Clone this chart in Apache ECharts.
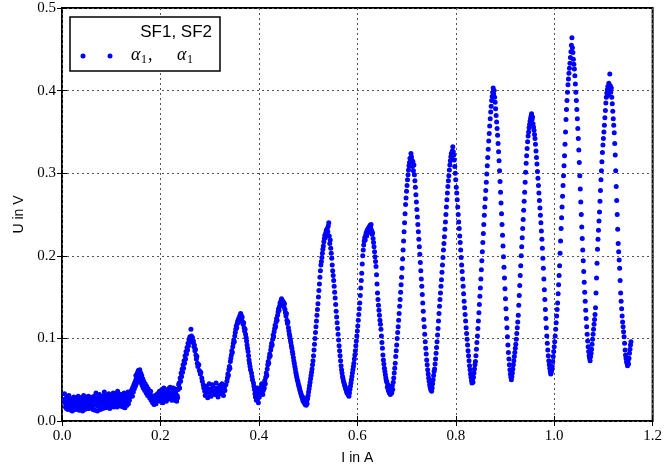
<!DOCTYPE html>
<html>
<head>
<meta charset="utf-8">
<script src="https://cdn.jsdelivr.net/npm/echarts@6/dist/echarts.min.js"></script>
<style>html,body{margin:0;padding:0;background:#fff;}#c{width:665px;height:470px;}</style>
</head>
<body>
<div id="c"></div>
<script>
// ---- data (I in A, U in V) ----
const xTicks = [0.0, 0.2, 0.4, 0.6, 0.8, 1.0, 1.2];
const yTicks = [0.0, 0.1, 0.2, 0.3, 0.4, 0.5];
const seriesName = "SF1, SF2";

const band0 = [[0.005,0.033],[0.006,0.022],[0.007,0.017],[0.008,0.027],[0.010,0.030],[0.011,0.019],[0.012,0.014],[0.013,0.024],[0.015,0.028],[0.016,0.018],[0.018,0.021],[0.019,0.013],[0.020,0.026],[0.022,0.016],[0.023,0.023],[0.025,0.019],[0.026,0.027],[0.028,0.014],[0.029,0.021],[0.031,0.025],[0.032,0.017],[0.034,0.022],[0.035,0.013],[0.037,0.026],[0.038,0.019],[0.040,0.023],[0.041,0.016],[0.043,0.027],[0.045,0.020],[0.046,0.014],[0.048,0.024],[0.050,0.018],[0.051,0.026],[0.053,0.021],[0.055,0.015],[0.056,0.023],[0.058,0.027],[0.060,0.018],[0.061,0.022],[0.063,0.014],[0.065,0.025],[0.066,0.030],[0.068,0.019],[0.069,0.034],[0.071,0.024],[0.072,0.012],[0.074,0.021],[0.075,0.028],[0.077,0.017],[0.079,0.025],[0.080,0.022],[0.082,0.030],[0.083,0.015],[0.085,0.026],[0.087,0.020],[0.088,0.031],[0.090,0.024],[0.091,0.018],[0.093,0.028],[0.095,0.033],[0.096,0.022],[0.098,0.026],[0.099,0.019],[0.101,0.030],[0.103,0.024],[0.104,0.034],[0.106,0.027],[0.107,0.020],[0.109,0.031],[0.111,0.025],[0.112,0.017],[0.114,0.029],[0.115,0.033],[0.117,0.022],[0.119,0.027],[0.120,0.018],[0.122,0.025],[0.123,0.030],[0.125,0.021],[0.127,0.028],[0.128,0.016],[0.130,0.024],[0.131,0.031],[0.133,0.027],[0.135,0.021],[0.136,0.033],[0.138,0.029],[0.140,0.036]];

const band0b = [[0.004,0.026],[0.009,0.015],[0.014,0.031],[0.017,0.024],[0.021,0.012],[0.024,0.029],[0.027,0.020],[0.030,0.015],[0.033,0.030],[0.036,0.020],[0.039,0.028],[0.042,0.012],[0.044,0.031],[0.047,0.019],[0.049,0.029],[0.052,0.015],[0.054,0.030],[0.057,0.018],[0.059,0.024],[0.062,0.029],[0.064,0.019],[0.067,0.013],[0.070,0.027],[0.073,0.018],[0.076,0.032],[0.078,0.014],[0.081,0.026],[0.084,0.021],[0.086,0.035],[0.089,0.016],[0.092,0.030],[0.094,0.025],[0.097,0.015],[0.100,0.027],[0.102,0.021],[0.105,0.017],[0.108,0.033],[0.110,0.022],[0.113,0.036],[0.116,0.026],[0.118,0.019],[0.121,0.032],[0.124,0.017],[0.126,0.034],[0.129,0.022],[0.132,0.019],[0.134,0.035],[0.137,0.025],[0.139,0.031]];

const bump1 = [[0.141,0.032],[0.142,0.038],[0.143,0.030],[0.144,0.041],[0.145,0.035],[0.146,0.044],[0.147,0.039],[0.148,0.047],[0.149,0.042],[0.150,0.050],[0.151,0.045],[0.152,0.053],[0.153,0.048],[0.154,0.056],[0.155,0.051],[0.156,0.059],[0.157,0.054],[0.158,0.057],[0.159,0.050],[0.160,0.053],[0.161,0.046],[0.162,0.049],[0.163,0.043],[0.164,0.046],[0.165,0.040],[0.167,0.044],[0.168,0.037],[0.170,0.041],[0.171,0.034],[0.173,0.038],[0.174,0.031],[0.176,0.035],[0.178,0.028],[0.179,0.033],[0.181,0.025],[0.183,0.030],[0.184,0.022],[0.186,0.027],[0.188,0.024],[0.189,0.031],[0.191,0.021],[0.193,0.026],[0.194,0.033],[0.196,0.028],[0.198,0.036],[0.199,0.024],
[0.150,0.055],[0.153,0.058],[0.155,0.061],[0.158,0.062],[0.160,0.058],[0.162,0.055],[0.164,0.051],[0.166,0.048],[0.169,0.045],[0.172,0.042],[0.175,0.039],[0.177,0.032],[0.180,0.036],[0.185,0.029],[0.187,0.020]];

const band1 = [[0.201,0.030],[0.203,0.038],[0.204,0.026],[0.206,0.033],[0.207,0.040],[0.209,0.029],[0.211,0.035],[0.212,0.024],[0.214,0.031],[0.215,0.038],[0.217,0.027],[0.219,0.034],[0.220,0.041],[0.222,0.030],[0.223,0.025],[0.225,0.036],[0.227,0.032],[0.228,0.039],[0.230,0.028],[0.231,0.035],[0.233,0.024],[0.234,0.031],[0.236,0.038],[0.237,0.044],
[0.202,0.034],[0.205,0.022],[0.208,0.036],[0.210,0.025],[0.213,0.037],[0.216,0.029],[0.218,0.040],[0.221,0.027],[0.224,0.033],[0.226,0.040],[0.229,0.025],[0.232,0.038],[0.235,0.028]];

const peak1 = [[0.238,0.046],[0.239,0.040],[0.240,0.052],[0.241,0.048],[0.242,0.058],[0.243,0.054],[0.244,0.063],[0.245,0.059],[0.246,0.068],[0.247,0.064],[0.248,0.073],[0.249,0.070],[0.250,0.079],[0.251,0.075],[0.252,0.084],[0.253,0.081],[0.254,0.089],[0.255,0.086],[0.256,0.094],[0.257,0.091],[0.258,0.099],[0.259,0.096],[0.260,0.102],[0.261,0.098],[0.262,0.111],[0.263,0.103],[0.264,0.099],[0.265,0.101],[0.266,0.095],[0.267,0.097],[0.268,0.090],[0.269,0.092],[0.270,0.085],[0.271,0.087],[0.272,0.080],[0.273,0.075],[0.274,0.078],[0.275,0.070],[0.276,0.066],[0.278,0.068],[0.279,0.061],[0.281,0.057],[0.282,0.059],[0.284,0.052],[0.285,0.048],[0.287,0.044],[0.288,0.040]];

const flat1 = [[0.290,0.036],[0.291,0.031],[0.293,0.042],[0.294,0.035],[0.296,0.028],[0.297,0.039],[0.299,0.045],[0.300,0.033],[0.302,0.038],[0.303,0.030],[0.305,0.044],[0.306,0.036],[0.308,0.041],[0.310,0.032],[0.311,0.038],[0.313,0.046],[0.314,0.034],[0.316,0.040],[0.317,0.029],[0.319,0.037],[0.321,0.043],[0.322,0.033],[0.324,0.039],[0.325,0.045],[0.327,0.035],[0.328,0.031],[0.330,0.041],[0.331,0.037],[0.333,0.044]];

const peak2 = [[0.335,0.048],[0.336,0.052],[0.337,0.057],[0.338,0.055],[0.339,0.062],[0.340,0.066],[0.341,0.064],[0.342,0.072],[0.343,0.076],[0.344,0.080],[0.345,0.085],[0.346,0.083],[0.347,0.090],[0.348,0.094],[0.349,0.098],[0.350,0.096],[0.351,0.103],[0.352,0.107],[0.353,0.111],[0.354,0.115],[0.355,0.113],[0.356,0.118],[0.357,0.121],[0.358,0.119],[0.359,0.124],[0.360,0.122],[0.361,0.127],[0.362,0.125],[0.363,0.130],[0.364,0.128],[0.365,0.124],[0.366,0.126],[0.367,0.120],[0.368,0.117],[0.369,0.119],[0.370,0.113],[0.371,0.109],[0.372,0.111],[0.373,0.105],[0.374,0.101],[0.375,0.097],[0.376,0.092],[0.377,0.088],[0.378,0.084],[0.379,0.079],[0.380,0.074],[0.381,0.070],[0.382,0.066],[0.383,0.062],[0.385,0.058],[0.386,0.054],[0.387,0.050],[0.389,0.046],[0.390,0.042]];

const valley2 = [[0.391,0.038],[0.392,0.033],[0.393,0.029],[0.394,0.035],[0.395,0.025],[0.396,0.031],[0.397,0.040],[0.398,0.027],[0.399,0.022],[0.400,0.034],[0.401,0.029],[0.402,0.038],[0.403,0.032],[0.404,0.041],[0.405,0.036],[0.406,0.045]];

const peak3 = [[0.407,0.040],[0.408,0.032],[0.409,0.037],[0.410,0.044],[0.411,0.040],[0.412,0.049],[0.413,0.045],[0.414,0.053],[0.415,0.058],[0.416,0.055],[0.417,0.063],[0.418,0.068],[0.419,0.072],[0.420,0.070],[0.421,0.077],[0.422,0.081],[0.423,0.079],[0.424,0.086],[0.425,0.090],[0.426,0.094],[0.427,0.092],[0.428,0.099],[0.429,0.104],[0.430,0.102],[0.431,0.108],[0.432,0.112],[0.433,0.116],[0.434,0.114],[0.435,0.120],[0.436,0.124],[0.437,0.122],[0.438,0.128],[0.439,0.132],[0.440,0.136],[0.441,0.134],[0.442,0.139],[0.443,0.143],[0.444,0.141],[0.445,0.146],[0.446,0.148],[0.447,0.143],[0.448,0.146],[0.449,0.140],[0.450,0.144],[0.451,0.138],[0.452,0.142],[0.453,0.135],
[0.454,0.131],[0.455,0.127],[0.456,0.130],[0.457,0.122],[0.458,0.118],[0.459,0.120],[0.460,0.113],[0.461,0.109],[0.462,0.105],[0.463,0.102],[0.464,0.098],[0.465,0.095],[0.466,0.091],[0.467,0.088],[0.468,0.084],[0.469,0.081],[0.470,0.077],[0.471,0.073],[0.472,0.070],[0.473,0.066],[0.474,0.063],[0.475,0.059],[0.476,0.056],[0.477,0.053],[0.478,0.050],[0.479,0.048],[0.480,0.045],[0.481,0.043],[0.482,0.041],[0.483,0.038],[0.484,0.036],[0.485,0.034],[0.486,0.032],[0.487,0.030],[0.488,0.028],[0.489,0.026],[0.490,0.024],[0.491,0.028],[0.492,0.022],[0.493,0.025],[0.494,0.020],[0.495,0.023],[0.496,0.019],[0.497,0.024],[0.498,0.021],[0.499,0.027]];

const peak4 = [[0.500,0.031],[0.501,0.035],[0.502,0.039],[0.503,0.043],[0.504,0.047],[0.505,0.051],[0.506,0.055],[0.507,0.059],[0.508,0.063],[0.509,0.068],[0.510,0.073],[0.511,0.079],[0.512,0.086],[0.513,0.093],[0.514,0.100],[0.515,0.107],[0.516,0.114],[0.517,0.121],[0.518,0.128],[0.519,0.135],[0.520,0.142],[0.521,0.150],[0.522,0.158],[0.523,0.166],[0.524,0.174],[0.525,0.182],[0.526,0.189],[0.527,0.193],[0.528,0.198],[0.529,0.203],[0.530,0.208],[0.531,0.212],[0.532,0.217],[0.533,0.221],[0.534,0.225],[0.535,0.222],[0.536,0.228],[0.537,0.231],[0.538,0.226],[0.539,0.233],[0.540,0.229],[0.541,0.236],[0.542,0.240],
[0.543,0.224],[0.544,0.215],[0.545,0.219],[0.546,0.209],[0.547,0.203],[0.548,0.197],[0.549,0.189],[0.550,0.182],[0.551,0.176],[0.552,0.170],[0.553,0.163],[0.554,0.156],[0.555,0.149],[0.556,0.141],[0.557,0.133],[0.558,0.126],[0.559,0.119],[0.560,0.112],[0.561,0.105],[0.562,0.098],[0.563,0.091],[0.564,0.085],[0.565,0.079],[0.566,0.073],[0.567,0.067],[0.568,0.062],[0.569,0.058],[0.570,0.054],[0.571,0.051],[0.572,0.048],[0.573,0.046],[0.574,0.044],[0.575,0.042],[0.576,0.040],[0.577,0.038],[0.578,0.036],[0.579,0.034],[0.580,0.037],[0.581,0.032],[0.582,0.035],[0.583,0.030],[0.584,0.034],[0.585,0.038]];

const peak5 = [[0.586,0.042],[0.587,0.046],[0.588,0.050],[0.589,0.054],[0.590,0.058],[0.591,0.062],[0.592,0.066],[0.593,0.070],[0.594,0.075],[0.595,0.080],[0.596,0.085],[0.597,0.091],[0.598,0.097],[0.599,0.103],[0.600,0.109],[0.601,0.115],[0.602,0.122],[0.603,0.129],[0.604,0.136],[0.605,0.143],[0.606,0.152],[0.607,0.161],[0.608,0.170],[0.609,0.179],[0.610,0.190],[0.611,0.200],[0.612,0.207],[0.613,0.213],[0.614,0.218],[0.615,0.222],[0.616,0.219],[0.617,0.225],[0.618,0.228],[0.619,0.224],[0.620,0.231],[0.621,0.228],[0.622,0.233],[0.623,0.230],[0.624,0.235],[0.625,0.232],[0.626,0.237],[0.627,0.234],[0.628,0.238],
[0.629,0.231],[0.630,0.226],[0.631,0.228],[0.632,0.221],[0.633,0.216],[0.634,0.211],[0.635,0.205],[0.636,0.199],[0.637,0.193],[0.638,0.187],[0.639,0.177],[0.640,0.166],[0.641,0.155],[0.642,0.147],[0.643,0.140],[0.644,0.134],[0.645,0.128],[0.646,0.122],[0.647,0.117],[0.648,0.111],[0.649,0.103],[0.650,0.095],[0.651,0.088],[0.652,0.080],[0.653,0.074],[0.654,0.069],[0.655,0.064],[0.656,0.060],[0.657,0.056],[0.658,0.052],[0.659,0.049]];

const peak6 = [[0.660,0.047],[0.661,0.041],[0.662,0.044],[0.663,0.037],[0.664,0.040],[0.665,0.034],[0.666,0.038],[0.667,0.032],[0.668,0.036],[0.669,0.040],[0.670,0.034],[0.671,0.043],[0.672,0.038],[0.673,0.047],[0.674,0.052],[0.675,0.058],[0.676,0.064],[0.677,0.070],[0.678,0.078],[0.679,0.085],[0.680,0.092],[0.681,0.100],[0.682,0.107],[0.683,0.114],[0.684,0.122],[0.685,0.130],[0.686,0.139],[0.687,0.147],[0.688,0.156],[0.689,0.165],[0.690,0.174],[0.691,0.185],[0.692,0.196],[0.693,0.207],[0.694,0.218],[0.695,0.229],[0.696,0.240],[0.697,0.251],[0.698,0.262],[0.699,0.270],[0.700,0.278],[0.701,0.285],[0.702,0.292],[0.703,0.298],[0.704,0.304],[0.705,0.309],[0.706,0.313],[0.707,0.318],[0.708,0.314],[0.709,0.324],[0.710,0.320],[0.711,0.316],
[0.712,0.308],[0.713,0.314],[0.714,0.303],[0.715,0.310],[0.716,0.298],[0.717,0.291],[0.718,0.283],[0.719,0.274],[0.720,0.265],[0.721,0.256],[0.722,0.247],[0.723,0.238],[0.724,0.229],[0.725,0.220],[0.726,0.211],[0.727,0.202],[0.728,0.192],[0.729,0.182],[0.730,0.172],[0.731,0.163],[0.732,0.153],[0.733,0.143],[0.734,0.133],[0.735,0.123],[0.736,0.114],[0.737,0.105],[0.738,0.096],[0.739,0.088],[0.740,0.081],[0.741,0.074],[0.742,0.068],[0.743,0.062],[0.744,0.057],[0.745,0.052],[0.746,0.048],[0.747,0.044],[0.748,0.041],[0.749,0.038],[0.750,0.042],[0.751,0.036],[0.752,0.040],[0.753,0.045]];

const peak7 = [[0.754,0.050],[0.755,0.055],[0.756,0.060],[0.757,0.063],[0.758,0.069],[0.759,0.075],[0.760,0.082],[0.761,0.089],[0.762,0.096],[0.763,0.104],[0.764,0.112],[0.765,0.121],[0.766,0.130],[0.767,0.139],[0.768,0.147],[0.769,0.155],[0.770,0.163],[0.771,0.171],[0.772,0.180],[0.773,0.189],[0.774,0.198],[0.775,0.207],[0.776,0.215],[0.777,0.223],[0.778,0.232],[0.779,0.241],[0.780,0.250],[0.781,0.259],[0.782,0.268],[0.783,0.276],[0.784,0.284],[0.785,0.291],[0.786,0.297],[0.787,0.304],[0.788,0.310],[0.789,0.315],[0.790,0.320],[0.791,0.324],[0.792,0.318],[0.793,0.327],[0.794,0.332],[0.795,0.326],[0.796,0.322],
[0.797,0.316],[0.798,0.308],[0.799,0.300],[0.800,0.292],[0.801,0.283],[0.802,0.276],[0.803,0.268],[0.804,0.259],[0.805,0.250],[0.806,0.241],[0.807,0.233],[0.808,0.224],[0.809,0.216],[0.810,0.207],[0.811,0.198],[0.812,0.189],[0.813,0.181],[0.814,0.172],[0.815,0.163],[0.816,0.154],[0.817,0.145],[0.818,0.137],[0.819,0.129],[0.820,0.121],[0.821,0.113],[0.822,0.106],[0.823,0.099],[0.824,0.092],[0.825,0.085],[0.826,0.079],[0.827,0.073],[0.828,0.067],[0.829,0.062],[0.830,0.057],[0.831,0.053],[0.832,0.049],[0.833,0.046],[0.834,0.050],[0.835,0.047]];

const peak8 = [[0.836,0.053],[0.837,0.058],[0.838,0.063],[0.839,0.068],[0.840,0.072],[0.841,0.079],[0.842,0.087],[0.843,0.095],[0.844,0.103],[0.845,0.112],[0.846,0.121],[0.847,0.131],[0.848,0.141],[0.849,0.151],[0.850,0.161],[0.851,0.172],[0.852,0.183],[0.853,0.194],[0.854,0.205],[0.855,0.216],[0.856,0.227],[0.857,0.238],[0.858,0.249],[0.859,0.259],[0.860,0.269],[0.861,0.279],[0.862,0.289],[0.863,0.299],[0.864,0.309],[0.865,0.319],[0.866,0.329],[0.867,0.339],[0.868,0.348],[0.869,0.357],[0.870,0.366],[0.871,0.374],[0.872,0.381],[0.873,0.388],[0.874,0.393],[0.875,0.398],[0.876,0.403],[0.877,0.396],[0.878,0.400],
[0.879,0.392],[0.880,0.386],[0.881,0.378],[0.882,0.370],[0.883,0.362],[0.884,0.354],[0.885,0.346],[0.886,0.336],[0.887,0.326],[0.888,0.315],[0.889,0.303],[0.890,0.290],[0.891,0.277],[0.892,0.264],[0.893,0.251],[0.894,0.238],[0.895,0.225],[0.896,0.212],[0.897,0.199],[0.898,0.186],[0.899,0.173],[0.900,0.160],[0.901,0.148],[0.902,0.136],[0.903,0.124],[0.904,0.113],[0.905,0.102],[0.906,0.092],[0.907,0.083],[0.908,0.075],[0.909,0.068],[0.910,0.062],[0.911,0.057],[0.912,0.053],[0.913,0.050],[0.914,0.054],[0.915,0.058]];

const peak9 = [[0.916,0.063],[0.917,0.068],[0.918,0.073],[0.919,0.078],[0.920,0.083],[0.921,0.088],[0.922,0.093],[0.923,0.099],[0.924,0.106],[0.925,0.113],[0.926,0.120],[0.927,0.128],[0.928,0.140],[0.929,0.152],[0.930,0.164],[0.931,0.176],[0.932,0.188],[0.933,0.200],[0.934,0.211],[0.935,0.222],[0.936,0.233],[0.937,0.244],[0.938,0.255],[0.939,0.266],[0.940,0.277],[0.941,0.289],[0.942,0.301],[0.943,0.312],[0.944,0.321],[0.945,0.330],[0.946,0.338],[0.947,0.345],[0.948,0.350],[0.949,0.355],[0.950,0.359],[0.951,0.363],[0.952,0.366],[0.953,0.369],[0.954,0.372],[0.955,0.365],[0.956,0.368],[0.957,0.360],
[0.958,0.356],[0.959,0.352],[0.960,0.347],[0.961,0.342],[0.962,0.335],[0.963,0.327],[0.964,0.319],[0.965,0.311],[0.966,0.302],[0.967,0.294],[0.968,0.285],[0.969,0.276],[0.970,0.267],[0.971,0.258],[0.972,0.249],[0.973,0.240],[0.974,0.230],[0.975,0.220],[0.976,0.209],[0.977,0.197],[0.978,0.185],[0.979,0.172],[0.980,0.159],[0.981,0.147],[0.982,0.135],[0.983,0.124],[0.984,0.113],[0.985,0.103],[0.986,0.094],[0.987,0.086],[0.988,0.079],[0.989,0.073],[0.990,0.068],[0.991,0.064],[0.992,0.060],[0.993,0.057],[0.994,0.059],[0.995,0.062]];

const peak10 = [[0.996,0.066],[0.997,0.072],[0.998,0.078],[0.999,0.084],[1.000,0.090],[1.001,0.096],[1.002,0.103],[1.003,0.111],[1.004,0.119],[1.005,0.127],[1.006,0.135],[1.007,0.143],[1.008,0.154],[1.009,0.165],[1.010,0.176],[1.011,0.188],[1.012,0.203],[1.013,0.218],[1.014,0.233],[1.015,0.246],[1.016,0.259],[1.017,0.272],[1.018,0.285],[1.019,0.297],[1.020,0.309],[1.021,0.321],[1.022,0.335],[1.023,0.350],[1.024,0.365],[1.025,0.377],[1.026,0.388],[1.027,0.398],[1.028,0.407],[1.029,0.414],[1.030,0.421],[1.031,0.427],[1.032,0.433],[1.033,0.440],[1.034,0.447],[1.035,0.455],[1.036,0.464],[1.037,0.452],[1.038,0.446],[1.039,0.438],
[1.040,0.432],[1.041,0.426],[1.042,0.418],[1.043,0.408],[1.044,0.398],[1.045,0.388],[1.046,0.377],[1.047,0.366],[1.048,0.354],[1.049,0.342],[1.050,0.328],[1.051,0.313],[1.052,0.297],[1.053,0.281],[1.054,0.265],[1.055,0.250],[1.056,0.235],[1.057,0.221],[1.058,0.207],[1.059,0.194],[1.060,0.181],[1.061,0.168],[1.062,0.156],[1.063,0.145],[1.064,0.134],[1.065,0.124],[1.066,0.114],[1.067,0.105],[1.068,0.097],[1.069,0.090],[1.070,0.084],[1.071,0.079],[1.072,0.076],[1.073,0.073],[1.074,0.078],[1.075,0.082]];

const peak11 = [[1.076,0.087],[1.077,0.093],[1.078,0.099],[1.079,0.105],[1.080,0.111],[1.081,0.117],[1.082,0.123],[1.083,0.129],[1.084,0.137],[1.085,0.155],[1.086,0.173],[1.087,0.191],[1.088,0.208],[1.089,0.220],[1.090,0.231],[1.091,0.242],[1.092,0.253],[1.093,0.266],[1.094,0.279],[1.095,0.292],[1.096,0.303],[1.097,0.314],[1.098,0.325],[1.099,0.334],[1.100,0.342],[1.101,0.350],[1.102,0.358],[1.103,0.367],[1.104,0.376],[1.105,0.385],[1.106,0.392],[1.107,0.397],[1.108,0.401],[1.109,0.405],[1.110,0.395],[1.111,0.409],[1.112,0.400],[1.113,0.420],[1.114,0.406],[1.115,0.398],[1.116,0.403],[1.117,0.392],
[1.118,0.384],[1.119,0.375],[1.120,0.366],[1.121,0.358],[1.122,0.349],[1.123,0.336],[1.124,0.322],[1.125,0.303],[1.126,0.284],[1.127,0.267],[1.128,0.250],[1.129,0.232],[1.130,0.215],[1.131,0.205],[1.132,0.195],[1.133,0.185],[1.134,0.170],[1.135,0.155],[1.136,0.145],[1.137,0.136],[1.138,0.127],[1.139,0.120],[1.140,0.114],[1.141,0.108],[1.142,0.102],[1.143,0.094],[1.144,0.086],[1.145,0.080],[1.146,0.076],[1.147,0.072],[1.148,0.070],[1.149,0.067],[1.150,0.073],[1.151,0.069],[1.152,0.076],[1.153,0.082],[1.154,0.087],[1.155,0.092],[1.156,0.096]];

const allPoints = [].concat(band0, band0b, bump1, band1, peak1, flat1, peak2, valley2, peak3, peak4, peak5, peak6, peak7, peak8, peak9, peak10, peak11);

// ---- chart ----
const chart = echarts.init(document.getElementById('c'), null, {renderer: 'canvas'});
const serif = "'Liberation Serif', 'DejaVu Serif', serif";
const sans = "'Liberation Sans', Arial, sans-serif";
const fmt = v => v.toFixed(1);
const axisBase = {
  type: 'value',
  axisLine: {show: false},
  axisTick: {show: true, inside: true, length: 5, lineStyle: {color: '#000', width: 1}},
  splitLine: {show: false}
};
chart.setOption({
  animation: false,
  backgroundColor: '#fff',
  grid: {left: 62, right: 8, top: 8, bottom: 44, show: true, borderColor: '#000', borderWidth: 2, backgroundColor: 'transparent'},
  xAxis: [
    Object.assign({}, axisBase, {
      min: xTicks[0], max: xTicks[xTicks.length - 1], interval: 0.2, position: 'bottom',
      axisLabel: {formatter: fmt, fontFamily: serif, fontSize: 15, color: '#000', margin: 8},
      splitLine: {show: true, lineStyle: {type: [2, 3], color: '#555', width: 1}},
      name: 'I in A', nameLocation: 'middle', nameGap: 30,
      nameTextStyle: {fontFamily: sans, fontSize: 14, color: '#000'}
    }),
    Object.assign({}, axisBase, {
      min: xTicks[0], max: xTicks[xTicks.length - 1], interval: 0.2, position: 'top',
      axisLabel: {show: false}
    })
  ],
  yAxis: [
    Object.assign({}, axisBase, {
      min: yTicks[0], max: yTicks[yTicks.length - 1], interval: 0.1, position: 'left',
      axisLabel: {formatter: fmt, fontFamily: serif, fontSize: 15, color: '#000', margin: 6},
      splitLine: {show: true, lineStyle: {type: [2, 3], color: '#555', width: 1}},
      name: 'U in V', nameLocation: 'middle', nameGap: 35, nameRotate: 90,
      nameTextStyle: {fontFamily: sans, fontSize: 14, color: '#000'}
    }),
    Object.assign({}, axisBase, {
      min: yTicks[0], max: yTicks[yTicks.length - 1], interval: 0.1, position: 'right',
      axisLabel: {show: false}
    })
  ],
  series: [{
    name: seriesName,
    type: 'scatter',
    xAxisIndex: 0, yAxisIndex: 0,
    data: allPoints,
    symbol: 'circle',
    symbolSize: 5,
    itemStyle: {color: '#0000ff', opacity: 1},
    silent: true
  }],
  graphic: [
    {type: 'rect', shape: {x: 70, y: 17, width: 150, height: 54}, style: {fill: '#fff', stroke: '#000', lineWidth: 1.5}, z: 100},
    {type: 'text', x: 212, y: 32, style: {text: seriesName, fontFamily: sans, fontSize: 17, fill: '#000', align: 'right', verticalAlign: 'middle'}, z: 101},
    {type: 'circle', shape: {cx: 83, cy: 56, r: 2.5}, style: {fill: '#0000ff'}, z: 101},
    {type: 'circle', shape: {cx: 110, cy: 56, r: 2.5}, style: {fill: '#0000ff'}, z: 101},
    {type: 'text', x: 131, y: 55, style: {text: 'α', fontFamily: serif, fontStyle: 'italic', fontSize: 18, fill: '#000', verticalAlign: 'middle'}, z: 101},
    {type: 'text', x: 141, y: 60, style: {text: '1', fontFamily: serif, fontSize: 12, fill: '#000', verticalAlign: 'middle'}, z: 101},
    {type: 'text', x: 148, y: 55, style: {text: ',', fontFamily: serif, fontSize: 18, fill: '#000', verticalAlign: 'middle'}, z: 101},
    {type: 'text', x: 177, y: 55, style: {text: 'α', fontFamily: serif, fontStyle: 'italic', fontSize: 18, fill: '#000', verticalAlign: 'middle'}, z: 101},
    {type: 'text', x: 187, y: 60, style: {text: '1', fontFamily: serif, fontSize: 12, fill: '#000', verticalAlign: 'middle'}, z: 101}
  ]
});
</script>
</body>
</html>
